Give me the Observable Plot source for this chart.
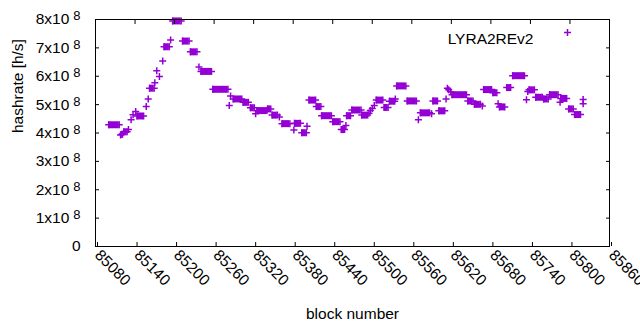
<!DOCTYPE html>
<html><head><meta charset="utf-8">
<script src="https://cdn.jsdelivr.net/npm/d3@7"></script>
<script src="https://cdn.jsdelivr.net/npm/@observablehq/plot@0.6"></script>
<style>body{margin:0;background:#fff}</style>
</head><body><div id="chart"></div>
<script>
// Runs of consecutive blocks sharing the same hashrate estimate (from = to for a single block)
const runFrom = [85100,85118,85120,85123,85130,85134,85137,85141,85143,85157,85160,85162,85170,85173,85177,85182,85184,85194,85197,85212,85224,85237,85240,85258,85283,85285,85289,85304,85315,85323,85325,85341,85348,85359,85363,85381,85382,85393,85401,85404,85415,85423,85440,85453,85460,85461,85469,85484,85495,85497,85500,85503,85506,85518,85526,85535,85537,85553,85570,85573,85590,85592,85601,85612,85614,85616,85619,85621,85645,85655,85667,85669,85683,85691,85693,85704,85713,85734,85736,85738,85748,85760,85769,85785,85786,85798,85807,85820,85820];
const runTo   = [85116,85118,85121,85128,85130,85134,85137,85141,85153,85157,85160,85169,85170,85173,85177,85182,85192,85194,85210,85222,85234,85237,85256,85281,85283,85285,85302,85312,85321,85323,85340,85346,85356,85359,85375,85381,85391,85400,85401,85414,85422,85438,85451,85458,85460,85467,85483,85493,85495,85497,85500,85503,85516,85524,85534,85535,85551,85567,85570,85587,85590,85599,85610,85612,85614,85616,85619,85643,85653,85664,85667,85681,85689,85691,85701,85710,85731,85734,85736,85746,85758,85767,85782,85785,85795,85805,85816,85820,85820];
const hashrate = [4.29e8,3.93e8,3.96e8,4.04e8,4.12e8,4.47e8,4.64e8,4.76e8,4.60e8,4.93e8,5.20e8,5.58e8,5.77e8,6.19e8,5.99e8,6.54e8,7.04e8,7.28e8,7.95e8,7.24e8,6.86e8,6.33e8,6.17e8,5.54e8,4.97e8,5.30e8,5.20e8,5.08e8,4.89e8,4.68e8,4.79e8,4.85e8,4.63e8,4.56e8,4.33e8,4.11e8,4.34e8,4.01e8,4.24e8,5.16e8,4.93e8,4.61e8,4.40e8,4.12e8,4.26e8,4.61e8,4.81e8,4.63e8,4.70e8,4.79e8,4.86e8,4.97e8,5.16e8,4.90e8,5.12e8,5.20e8,5.66e8,5.13e8,4.47e8,4.71e8,4.68e8,5.13e8,4.78e8,5.20e8,5.58e8,5.52e8,5.45e8,5.35e8,5.13e8,5.01e8,4.95e8,5.53e8,5.42e8,5.03e8,4.92e8,5.60e8,6.02e8,5.17e8,5.46e8,5.52e8,5.26e8,5.20e8,5.35e8,5.08e8,5.22e8,4.85e8,4.65e8,5.18e8,5.03e8];

const xTicks = [85080,85140,85200,85260,85320,85380,85440,85500,85560,85620,85680,85740,85800,85860];
const yTicks = [0,1e8,2e8,3e8,4e8,5e8,6e8,7e8,8e8];
const seriesName = "LYRA2REv2";
const xLabel = "block number";
const yLabel = "hashrate [h/s]";
const color = "#9400d3";

const runs = runFrom.map((f, i) => ({from: f, to: runTo[i], h: hashrate[i]}));
const ends = runs.flatMap(r => r.from === r.to ? [{x: r.from, h: r.h}] : [{x: r.from, h: r.h}, {x: r.to, h: r.h}]);

const plusSymbol = {
  draw(ctx, size) {
    const r = Math.sqrt(size / Math.PI);
    ctx.moveTo(-r, 0); ctx.lineTo(r, 0);
    ctx.moveTo(0, -r); ctx.lineTo(0, r);
  }
};

const FS = 15.5;

const chart = Plot.plot({
  width: 640,
  height: 330,
  marginLeft: 95,
  marginRight: 31,
  marginTop: 19,
  marginBottom: 84,
  style: {fontFamily: "Liberation Sans", fontSize: FS + "px", color: "black", background: "white"},
  x: {domain: [85080, 85860]},
  y: {domain: [0, 8e8]},
  marks: [
    Plot.ruleY(runs.filter(r => r.to > r.from), {x1: "from", x2: "to", y: "h", stroke: color, strokeWidth: 7}),
    Plot.dot(ends, {x: "x", y: "h", symbol: plusSymbol, r: 3.5, stroke: color, strokeWidth: 1.5, fill: "none"}),
    Plot.frame({stroke: "black", strokeWidth: 1}),
    Plot.axisX({ticks: xTicks, anchor: "bottom", tickSize: -4, tickPadding: 10, tickRotate: 45, textAnchor: "start", dx: 2, tickFormat: d => String(d), label: null, fontSize: FS}),
    Plot.axisX({ticks: xTicks, anchor: "top", tickSize: -4, tickFormat: () => "", label: null}),
    Plot.axisY({ticks: yTicks, anchor: "left", tickSize: -4, tickPadding: 19, tickFormat: d => d === 0 ? "0" : `${d / 1e8}x10^8`, label: null, fontSize: FS}),
    Plot.axisY({ticks: yTicks, anchor: "right", tickSize: -4, tickFormat: () => "", label: null}),
    Plot.text([yLabel], {frameAnchor: "left", dx: -77, rotate: -90, text: d => d, fontSize: FS}),
    Plot.text([xLabel], {frameAnchor: "bottom", dy: 72, text: d => d, fontSize: FS}),
    Plot.text([seriesName], {frameAnchor: "top-right", dx: -76, dy: 13, textAnchor: "end", text: d => d, fontSize: FS}),
    Plot.dot([seriesName], {frameAnchor: "top-right", dx: -42, dy: 13, symbol: plusSymbol, r: 3.5, stroke: color, strokeWidth: 1.5, fill: "none"})
  ]
});

// superscript exponent on y tick labels
chart.querySelectorAll('g[aria-label="y-axis tick label"] text').forEach(t => {
  const s = t.textContent;
  if (s.includes("^")) {
    const [base, exp] = s.split("^");
    t.textContent = base;
    const sp = document.createElementNS("http://www.w3.org/2000/svg", "tspan");
    sp.setAttribute("dx", "4");
    sp.setAttribute("dy", "-4");
    sp.setAttribute("font-size", "13");
    sp.textContent = exp;
    t.appendChild(sp);
  }
});

document.getElementById("chart").appendChild(chart);
</script>
</body></html>
